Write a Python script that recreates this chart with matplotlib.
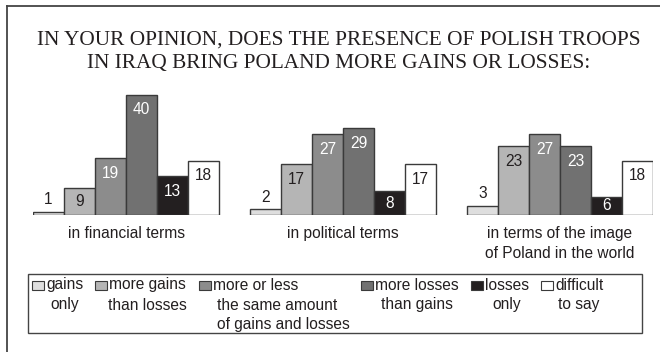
import matplotlib
matplotlib.use("Agg")
import matplotlib.pyplot as plt
from matplotlib.patches import Rectangle
from matplotlib.lines import Line2D

# data
groups = ["in financial terms", "in political terms",
          "in terms of the image\nof Poland in the world"]
answers = ["gains\nonly", "more gains\nthan losses",
           "more or less\nthe same amount\nof gains and losses",
           "more losses\nthan gains", "losses\nonly", "difficult\nto say"]
values = [
    [1, 9, 19, 40, 13, 18],
    [2, 17, 27, 29, 8, 17],
    [3, 23, 27, 23, 6, 18],
]
colors = ["#dedede", "#b5b5b5", "#8c8c8c", "#717171", "#231f20", "#ffffff"]
label_colors = ["#231f20", "#231f20", "#ffffff", "#ffffff", "#ffffff", "#231f20"]

W, H = 660, 352
fig = plt.figure(figsize=(W / 100, H / 100), dpi=100)
fig.patch.set_facecolor("white")
plt.rcParams["font.family"] = ["Liberation Sans", "DejaVu Sans"]
ink = "#231f20"
edge = "#3a3a3a"


def fx(x):
    return x / W


def fy(y):
    return 1 - y / H


# frame lines on left and top
fig.add_artist(Line2D([fx(7), fx(7)], [fy(6), 0], color="#444444", lw=1.3))
fig.add_artist(Line2D([fx(7), 1], [fy(6), fy(6)], color="#444444", lw=1.3))

# title
serif = ["Liberation Serif", "DejaVu Serif"]
fig.text(fx(339), fy(45), "IN YOUR OPINION, DOES THE PRESENCE OF POLISH TROOPS",
         ha="center", va="baseline", fontsize=15.3, color=ink, family=serif)
fig.text(fx(339), fy(68), "IN IRAQ BRING POLAND MORE GAINS OR LOSSES:",
         ha="center", va="baseline", fontsize=15.3, color=ink, family=serif)

# bars: one axes, 3 px per percentage point, baseline at y=215 px
ax = fig.add_axes([fx(33), fy(215), 620 / W, 135 / H])
ax.set_xlim(-0.5, 19.5)
ax.set_ylim(0, 45)
ax.axis("off")

for g, vals in enumerate(values):
    xs = [g * 7 + i for i in range(len(vals))]
    ax.bar(xs, vals, width=1.0, color=colors, edgecolor=edge, linewidth=1.0)
    for i, (x, v) in enumerate(zip(xs, vals)):
        if v >= 5:
            y = v - min(5, v / 2)
            c = label_colors[i]
        else:
            y = v + 4
            c = ink
        ax.text(x, y, str(v), ha="center", va="center", fontsize=11.2, color=c)
    ax.text(g * 7 + 2.5, -3.7, groups[g], ha="center", va="top", fontsize=11.2,
            color=ink, linespacing=1.4, clip_on=False)

# legend box drawn by hand
fig.add_artist(Rectangle((fx(28), fy(333)), 614 / W, 59 / H, transform=fig.transFigure,
                         facecolor="none", edgecolor="#444444", lw=1.0))
sq_x = [32, 95, 199, 361, 471, 541]
fig.canvas.draw()
for i, lab in enumerate(answers):
    x0 = sq_x[i]
    fig.add_artist(Rectangle((fx(x0), fy(290)), 12 / W, 9 / H, transform=fig.transFigure,
                             facecolor=colors[i], edgecolor=edge, lw=0.8))
    lines = lab.split("\n")
    t = fig.text(fx(x0 + 14), fy(285), lines[0], ha="left", va="center",
                 fontsize=11.2, color=ink)
    bb = t.get_window_extent(renderer=fig.canvas.get_renderer())
    for k, line in enumerate(lines[1:], start=1):
        if i == 2:
            fig.text(fx(x0 + 18), fy(285 + 20 * k), line, ha="left", va="center",
                     fontsize=11.2, color=ink)
        else:
            # centred under the first line
            cx = x0 + 14 + bb.width / 2
            fig.text(fx(cx), fy(285 + 20 * k), line, ha="center", va="center",
                     fontsize=11.2, color=ink)

fig.savefig("out.png", dpi=100)
